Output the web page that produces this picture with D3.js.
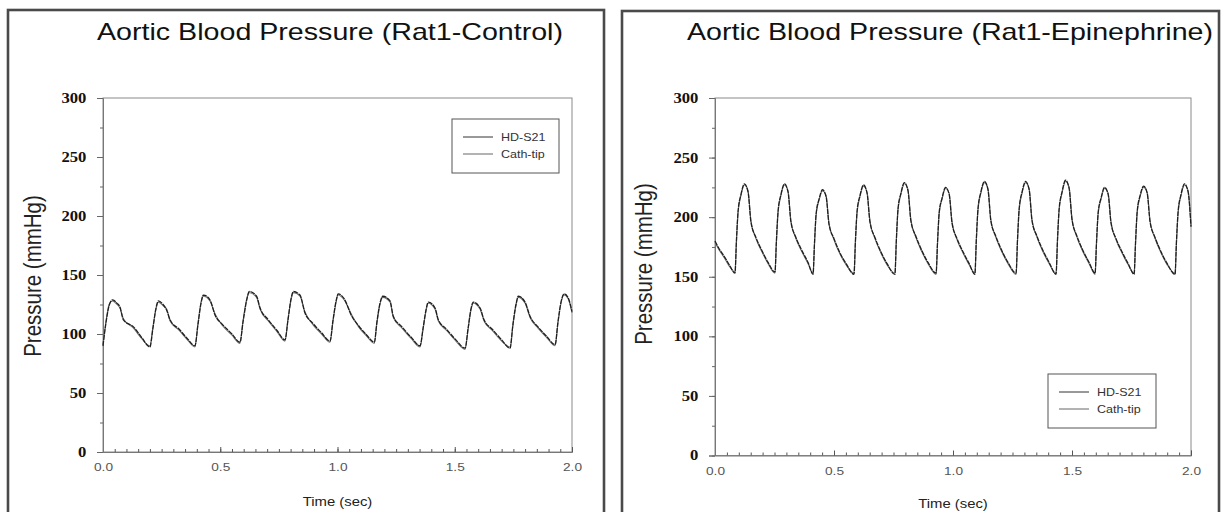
<!DOCTYPE html>
<html><head><meta charset="utf-8">
<script src="https://cdn.jsdelivr.net/npm/d3@7"></script>
<style>body{margin:0;background:#fff}svg{display:block}</style>
</head><body>
<svg id="c" width="1222" height="512"></svg>
<script>
// ---------- data ----------
const yTicks = [0, 50, 100, 150, 200, 250, 300];
const xTicks = [0.0, 0.5, 1.0, 1.5, 2.0];
const seriesNames = ["HD-S21", "Cath-tip"];
const titles = ["Aortic Blood Pressure (Rat1-Control)", "Aortic Blood Pressure (Rat1-Epinephrine)"];
const xLabel = "Time (sec)";
const yLabel = "Pressure (mmHg)";

const timeControl = [
  0.000,0.013,0.026,0.041,0.060,0.072,0.087,0.130,0.165,
  0.200,0.213,0.226,0.236,0.256,0.272,0.286,0.325,0.360,
  0.392,0.405,0.418,0.428,0.456,0.478,0.510,0.550,
  0.584,0.597,0.612,0.624,0.655,0.670,0.705,0.742,
  0.776,0.789,0.802,0.812,0.840,0.861,0.895,0.932,
  0.968,0.981,0.994,1.003,1.028,1.061,1.090,1.125,
  1.157,1.168,1.181,1.193,1.224,1.238,1.275,1.315,
  1.352,1.365,1.377,1.387,1.416,1.430,1.465,1.505,
  1.544,1.557,1.569,1.579,1.608,1.625,1.660,1.700,
  1.736,1.748,1.761,1.771,1.800,1.821,1.855,1.892,
  1.928,1.940,1.953,1.966,1.983,2.000];
const hdControl = [
  90,110,124,129,126,123,112,106,97,
  89,105,122,128,125,120,112,104,96,
  90,108,126,133,129,116,108,100,
  93,110,128,136,132,122,112,103,
  95,112,130,136,133,118,109,101,
  94,112,128,134,130,115,107,99,
  93,110,126,132,128,115,106,97,
  90,105,120,127,122,112,104,95,
  88,105,121,127,122,112,104,95,
  88,108,125,132,127,115,106,98,
  91,110,127,134,131,119];
const cathControl = [
  91,111,125,128,125,122,113,105,96,
  90,106,121,127,124,121,111,103,95,
  89,109,127,132,128,117,107,99,
  92,111,129,135,131,121,111,102,
  94,113,129,135,132,119,108,100,
  93,111,127,133,129,116,106,98,
  92,109,125,131,127,114,105,96,
  89,104,119,126,121,111,103,94,
  87,104,120,126,121,111,103,94,
  89,107,124,131,126,114,105,97,
  90,109,126,133,130,118];

const timeEpi = [
  0.000,0.013,0.042,0.063,
  0.084,0.090,0.097,0.109,0.124,0.139,0.151,0.172,0.197,0.223,
  0.252,0.258,0.265,0.277,0.292,0.307,0.319,0.340,0.365,0.391,
  0.412,0.418,0.425,0.437,0.452,0.467,0.479,0.500,0.525,0.551,
  0.584,0.590,0.597,0.609,0.624,0.639,0.651,0.672,0.697,0.723,
  0.756,0.762,0.769,0.781,0.796,0.811,0.823,0.844,0.869,0.895,
  0.929,0.935,0.942,0.954,0.969,0.984,0.996,1.017,1.042,1.068,
  1.092,1.098,1.105,1.117,1.132,1.147,1.159,1.180,1.205,1.231,
  1.265,1.271,1.278,1.290,1.305,1.320,1.332,1.353,1.378,1.404,
  1.433,1.439,1.446,1.458,1.473,1.488,1.500,1.521,1.546,1.572,
  1.597,1.603,1.610,1.622,1.637,1.652,1.664,1.685,1.710,1.736,
  1.761,1.767,1.774,1.786,1.801,1.816,1.828,1.849,1.874,1.900,
  1.933,1.939,1.946,1.958,1.973,1.988,2.000];
const hdEpi = [
  180,175,166,159,
  153,180,205,219,228,221,196,183,172,162,
  154,180,205,219,228,221,196,183,172,162,
  152,178,203,215,223,217,194,182,170,161,
  152,180,205,218,227,220,196,183,171,161,
  152,181,207,220,229,222,197,184,172,162,
  153,179,204,216,225,219,195,182,171,161,
  152,181,207,221,230,223,197,184,172,162,
  153,181,207,221,230,223,197,184,172,162,
  152,181,207,221,231,224,198,184,172,162,
  153,179,204,216,225,219,195,182,171,161,
  152,179,205,218,226,220,196,183,171,161,
  152,180,205,219,228,221,192];
const cathEpi = [
  179,174,165,158,
  154,179,204,218,227,222,197,182,171,161,
  153,179,204,218,227,222,197,182,171,161,
  153,177,202,214,222,218,195,181,169,160,
  153,179,204,217,226,221,197,182,170,160,
  153,180,206,219,228,223,198,183,171,161,
  152,178,203,215,224,220,196,181,170,160,
  153,180,206,220,229,224,198,183,171,161,
  152,180,206,220,229,224,198,183,171,161,
  153,180,206,220,230,225,199,183,171,161,
  152,178,203,215,224,220,196,181,170,160,
  153,178,204,217,225,221,197,182,170,160,
  153,179,204,218,227,222,193];

// ---------- layout ----------
const svg = d3.select("#c");
const SX = 1.19; // horizontal stretch of the scanned text

const panels = [
  {box:[8,10,596,530], plot:{x0:103,x1:572,y0:452,y1:98},
   title:{cx:330,y:40,len:466}, yl:{x:41,cy:276}, xl:{y:506},
   legend:{x:452,y:119,w:107,h:54},
   t:timeControl, hd:hdControl, cath:cathControl, name:titles[0]},
  {box:[622,11,597,530], plot:{x0:715,x1:1191,y0:455.5,y1:98},
   title:{cx:950,y:40,len:526}, yl:{x:652,cy:264}, xl:{y:508},
   legend:{x:1048,y:374,w:108,h:54},
   t:timeEpi, hd:hdEpi, cath:cathEpi, name:titles[1]}
];

panels.forEach(p => {
  const g = svg.append("g");
  g.append("rect").attr("x",p.box[0]).attr("y",p.box[1]).attr("width",p.box[2]).attr("height",p.box[3])
    .attr("fill","none").attr("stroke","#4a4a4a").attr("stroke-width",2.6);

  const x = d3.scaleLinear().domain([0,2]).range([p.plot.x0,p.plot.x1]);
  const y = d3.scaleLinear().domain([0,300]).range([p.plot.y0,p.plot.y1]);

  // frame
  g.append("rect").attr("x",p.plot.x0).attr("y",p.plot.y1)
    .attr("width",p.plot.x1-p.plot.x0).attr("height",p.plot.y0-p.plot.y1)
    .attr("fill","none").attr("stroke","#8a8a8a").attr("stroke-width",1);

  // x minor ticks
  const xMinor = g.append("g").attr("transform",`translate(0,${p.plot.y0})`)
    .call(d3.axisBottom(x).tickValues(d3.range(0,41).map(i=>i*0.05)).tickSize(-3).tickFormat(""));
  xMinor.select(".domain").remove();
  xMinor.selectAll("line").attr("stroke","#555");
  const xMajor = g.append("g").attr("transform",`translate(0,${p.plot.y0})`)
    .call(d3.axisBottom(x).tickValues(xTicks).tickSize(-5).tickPadding(17).tickFormat(d3.format(".1f")));
  xMajor.select(".domain").attr("stroke","#777");
  xMajor.selectAll("line").attr("stroke","#555");
  xMajor.selectAll("text").attr("font-family","Liberation Sans, Arial, sans-serif")
    .attr("font-size",11.5).attr("fill","#555").attr("dy","0.2em")
    .attr("transform",`scale(${SX},1)`);

  // y ticks
  const yMinor = g.append("g").attr("transform",`translate(${p.plot.x0},0)`)
    .call(d3.axisLeft(y).tickValues(d3.range(0,301,25)).tickSize(3).tickFormat(""));
  yMinor.select(".domain").remove();
  yMinor.selectAll("line").attr("stroke","#666");
  const yMajor = g.append("g").attr("transform",`translate(${p.plot.x0},0)`)
    .call(d3.axisLeft(y).tickValues(yTicks).tickSize(6).tickPadding(8));
  yMajor.select(".domain").attr("stroke","#777");
  yMajor.selectAll("line").attr("stroke","#666");
  yMajor.selectAll("text").attr("font-family","Liberation Serif, Times New Roman, serif")
    .attr("font-weight","bold").attr("font-size",14).attr("fill","#111")
    .attr("transform",`scale(${SX},1)`);

  // lines
  const line = d3.line().curve(d3.curveMonotoneX);
  const cathPts = p.t.map((t,i)=>[x(t),y(p.cath[i])]);
  const hdPts = p.t.map((t,i)=>[x(t),y(p.hd[i])]);
  g.append("path").attr("d",line(cathPts)).attr("fill","none").attr("stroke","#777").attr("stroke-width",1.1);
  g.append("path").attr("d",line(hdPts)).attr("fill","none").attr("stroke","#1e1e1e").attr("stroke-width",1.3)
    .attr("stroke-dasharray","5,0.8");

  // titles
  g.append("text").attr("x",p.title.cx).attr("y",p.title.y).attr("text-anchor","middle")
    .attr("font-family","Liberation Sans, Arial, sans-serif").attr("font-size",24).attr("fill","#111")
    .attr("textLength",p.title.len).attr("lengthAdjust","spacingAndGlyphs").text(p.name);

  g.append("text").attr("transform",`translate(${p.yl.x},${p.yl.cy}) scale(${SX},1) rotate(-90)`)
    .attr("text-anchor","middle").attr("font-family","Liberation Sans, Arial, sans-serif")
    .attr("font-size",20.5).attr("fill","#222").text(yLabel);

  g.append("text").attr("transform",`translate(${(p.plot.x0+p.plot.x1)/2},${p.xl.y}) scale(${SX},1)`)
    .attr("text-anchor","middle").attr("font-family","Liberation Sans, Arial, sans-serif")
    .attr("font-size",12.5).attr("fill","#222").text(xLabel);

  // legend
  const L = p.legend;
  const lg = g.append("g");
  lg.append("rect").attr("x",L.x).attr("y",L.y).attr("width",L.w).attr("height",L.h)
    .attr("fill","#fff").attr("stroke","#555").attr("stroke-width",1);
  seriesNames.forEach((s,i)=>{
    const yy = L.y + 18 + i*17;
    lg.append("line").attr("x1",L.x+11).attr("x2",L.x+41).attr("y1",yy).attr("y2",yy)
      .attr("stroke", i===0 ? "#333" : "#666").attr("stroke-width",1);
    lg.append("text").attr("transform",`translate(${L.x+49},${yy+4}) scale(${SX},1)`)
      .attr("font-family","Liberation Sans, Arial, sans-serif").attr("font-size",10.5).attr("fill","#333").text(s);
  });
});
</script>
</body></html>
